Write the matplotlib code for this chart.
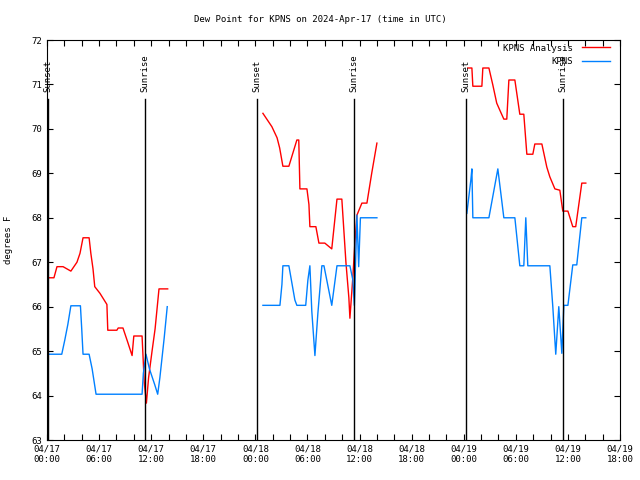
import numpy as np
import pandas as pd
import matplotlib
matplotlib.use("Agg")
import matplotlib.pyplot as plt
import matplotlib.dates as mdates

# hours since 2024-04-17 00:00 UTC, NaN breaks the line between days
analysis_hours = [0.0, 0.8, 1.15, 1.85, 2.75, 3.45, 3.8, 4.15, 4.85, 5.05, 5.3, 5.5, 6.1, 6.9, 7.0,
                  8.05, 8.2, 8.75, 9.3, 9.8, 10.0, 10.95, 11.2, 11.45, 11.7, 12.1, 12.45, 12.9, 13.9,
                  np.nan,
                  24.87, 25.9, 26.5, 26.8, 27.17, 27.86, 28.78, 29.0, 29.13, 29.94, 30.17, 30.28,
                  30.97, 31.32, 32.0, 32.8, 33.4, 33.96, 34.43, 34.77, 34.89, 35.23, 35.46, 35.7,
                  36.27, 36.85, 37.4, 38.0,
                  np.nan,
                  48.47, 48.94, 49.05, 50.09, 50.2, 50.9, 51.35, 51.8, 52.16, 52.62, 52.96, 53.2,
                  53.89, 54.46, 54.92, 55.27, 55.96, 56.19, 57.0, 57.57, 57.92, 58.5, 59.07, 59.41,
                  60.0, 60.56, 60.9, 61.6, 62.06]
analysis_dewpt = [66.65, 66.65, 66.9, 66.9, 66.8, 67.0, 67.2, 67.55, 67.55, 67.2, 66.85, 66.45, 66.3,
                  66.05, 65.47, 65.47, 65.52, 65.52, 65.2, 64.9, 65.34, 65.34, 64.3, 63.83, 64.4, 65.0,
                  65.5, 66.4, 66.4,
                  np.nan,
                  70.35, 70.05, 69.8, 69.57, 69.16, 69.16, 69.75, 69.75, 68.65, 68.65, 68.3, 67.8,
                  67.8, 67.43, 67.43, 67.3, 68.42, 68.42, 67.0, 66.2, 65.74, 66.67, 67.43, 68.06,
                  68.33, 68.33, 69.0, 69.68,
                  np.nan,
                  71.37, 71.37, 70.96, 70.96, 71.37, 71.37, 70.99, 70.58, 70.42, 70.22, 70.22, 71.1,
                  71.1, 70.33, 70.33, 69.43, 69.43, 69.66, 69.66, 69.14, 68.92, 68.65, 68.62, 68.15,
                  68.15, 67.8, 67.8, 68.78, 68.78]

obs_hours = [0.0, 1.7, 2.05, 2.4, 2.75, 3.85, 4.0, 4.15, 4.85, 5.2, 5.65, 10.95, 11.1, 11.4, 11.8,
             12.4, 12.75, 13.0, 13.5, 13.85,
             np.nan,
             24.87, 26.83, 27.06, 27.17, 27.86, 28.55, 28.78, 29.8, 30.05, 30.28, 30.5, 30.86, 31.2,
             31.66, 31.9, 32.8, 33.4, 34.89, 35.23, 35.4, 35.7, 35.9, 36.1, 38.0,
             np.nan,
             48.36, 48.82, 48.94, 49.05, 50.9, 51.93, 52.62, 53.89, 54.46, 54.92, 55.15, 55.38,
             57.92, 58.26, 58.6, 58.95, 59.3, 59.53, 60.0, 60.56, 61.02, 61.6, 62.06]
obs_dewpt = [64.93, 64.93, 65.25, 65.6, 66.02, 66.02, 65.5, 64.93, 64.93, 64.6, 64.03, 64.03, 64.5,
             64.93, 64.6, 64.25, 64.03, 64.4, 65.3, 66.0,
             np.nan,
             66.03, 66.03, 66.5, 66.92, 66.92, 66.15, 66.03, 66.03, 66.6, 66.92, 65.9, 64.9, 65.85,
             66.92, 66.92, 66.03, 66.92, 66.92, 66.6, 66.03, 68.06, 66.9, 68.0, 68.0,
             np.nan,
             68.1, 68.85, 69.1, 68.0, 68.0, 69.1, 68.0, 68.0, 66.92, 66.92, 68.0, 66.92,
             66.92, 66.0, 64.93, 66.0, 64.95, 66.03, 66.03, 66.94, 66.94, 68.0, 68.0]

sunset_hours = [0.15, 24.18, 48.24]
sunrise_hours = [11.28, 35.35, 59.41]

start = pd.Timestamp("2024-04-17 00:00")


def to_times(hours):
    """hours offset -> timestamps (NaN stays NaT)"""
    return pd.to_datetime([start + pd.Timedelta(hours=h) if not np.isnan(h) else pd.NaT for h in hours])


plt.rcParams['font.family'] = ['DejaVu Sans Mono']
plt.rcParams['font.size'] = 6.5

fig = plt.figure(figsize=(6.4, 4.8), dpi=100)
ax = fig.add_axes([47/640, 40/480, 573/640, 400/480])

ax.plot(to_times(analysis_hours), analysis_dewpt, color='#ff0000', lw=1.0, label='KPNS Analysis')
ax.plot(to_times(obs_hours), obs_dewpt, color='#0080ff', lw=1.0, label='KPNS')

for label, hours in (("Sunset", sunset_hours), ("Sunrise", sunrise_hours)):
    for t in to_times(hours):
        ax.plot([t, t], [63, 70.67], color='black', lw=1.0)
        ax.text(t, 70.83, label, rotation=90, ha='center', va='bottom', fontsize=6.5)

ax.set_xlim(start, start + pd.Timedelta(hours=66))
ax.set_ylim(63, 72)
ax.set_yticks(range(63, 73))
ax.xaxis.set_major_locator(mdates.HourLocator(byhour=[0, 6, 12, 18]))
ax.xaxis.set_minor_locator(mdates.HourLocator(byhour=range(0, 24, 2)))
ax.xaxis.set_major_formatter(mdates.DateFormatter('%m/%d\n%H:%M'))
ax.tick_params(which='both', direction='in', top=True, right=True, length=4, width=0.8, labelsize=6.5)
for s in ax.spines.values():
    s.set_linewidth(0.8)

ax.set_ylabel("degrees F", fontsize=6.5, labelpad=13)
fig.text(0.5, 1 - 20/480, "Dew Point for KPNS on 2024-Apr-17 (time in UTC)", ha='center', va='center', fontsize=6.5)

leg = ax.legend(loc='upper right', bbox_to_anchor=(0.989, 1.0), frameon=False, markerfirst=False,
                handlelength=3.1, handletextpad=1.0, borderaxespad=0.0, labelspacing=0.5, fontsize=6.5)
for t in leg.get_texts():
    t.set_ha('right')

fig.savefig("out.png", dpi=100)
